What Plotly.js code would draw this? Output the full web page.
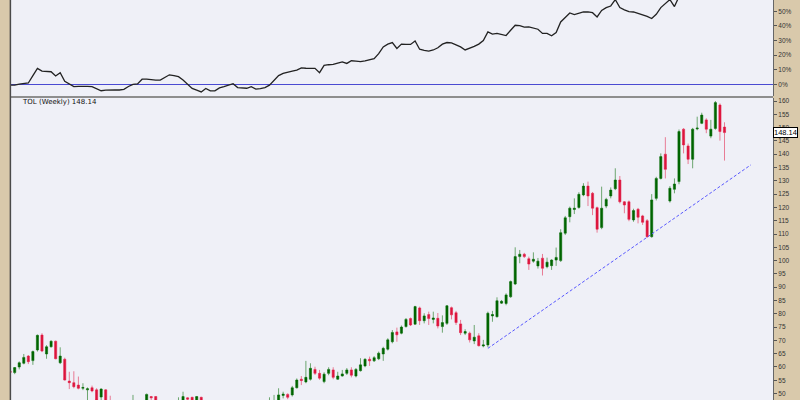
<!DOCTYPE html>
<html>
<head>
<meta charset="utf-8">
<script src="https://cdn.plot.ly/plotly-3.0.1.min.js"></script>
<style>
html,body{margin:0;padding:0;background:#d9c9ab;}
#chart{width:800px;height:400px;}
</style>
</head>
<body>
<div id="chart"></div>
<script>
// Weekly candles (index 0 = oldest visible week)
const openP = [58.4,57.9,60.0,61.4,64.1,62.4,66.4,72.0,64.9,67.6,69.7,61.6,62.9,54.7,54.1,53.2,52.0,51.4,52.2,51.4,
48.7,51.4,47.0,45,44,43,44,45.5,47,46.5,46,48.9,48.9,46.5,46,47,47.3,46.5,47,48.4,
48.6,46.8,48.6,46,45,44,44.5,45.5,46,46.5,47,45.5,45,44.8,45.5,44.5,45,46,47,47.2,
49.3,49.7,49.5,52.2,55.4,54.4,55.4,59.1,57.6,54.5,57.6,58.9,55.4,56.6,57.6,58.9,56.6,58.6,60.4,62.9,
62.3,63.1,64.9,66.7,69.5,73.2,72.7,75.2,78.2,76.1,82.2,77.4,79.7,77.9,78.3,75.2,76.4,82.3,80.4,76.2,
72.7,72.7,69.8,71.7,67.9,68.3,79.2,78.9,84.0,83.9,86.4,91.2,101.5,102.4,100.7,99.8,98.0,100.9,97.7,98.1,
100.2,100.0,110.3,116.5,119.2,120.0,124.7,128.0,125.3,119.9,112.4,120.5,124.3,127.0,130.3,122.1,122.1,115.3,119.3,116.8,
115.0,109.0,123.4,130.9,140.0,122.4,126.8,129.7,149.4,143.1,138.1,149.5,151.6,152.9,146.8,149.7,158.5,150.2];
const highP = [58.6,60.0,62.1,64.9,64.5,66.2,72.2,72.7,68.2,70.0,69.9,67.4,63.5,58.2,58.4,56.4,53.9,52.3,53.0,52.0,
52.0,51.6,49.2,46,45,45,46.5,49.5,47.3,47.5,50,49.1,49.1,47,47.4,47.5,47.5,48.6,50.7,48.6,
48.8,49.1,48.8,46.5,45.5,45.5,46,46.8,47,47.4,47.3,46,45.5,46,45.8,45.5,46.5,48.6,49.5,52.0,
50.7,50.1,52.9,55.7,56.6,62.3,61.4,60.1,58.9,58.0,59.9,59.9,58.2,58.9,59.6,59.9,59.6,63.3,63.3,63.9,
64.1,65.8,67.6,70.8,73.9,74.8,75.6,78.4,78.6,83.0,82.7,80.2,80.8,80.8,80.3,79.4,83.3,82.7,81.1,77.7,
74.2,73.3,75.8,72.7,70.2,80.8,81.1,86.2,85.2,87.7,92.5,105.0,104.0,102.9,101.5,103.1,101.0,102.5,101.1,100.5,
104.9,111.8,116.8,120.3,123.4,125.7,129.1,129.7,125.8,120.3,127.8,123.6,127.5,134.7,131.8,122.4,122.6,119.5,119.8,117.2,
115.6,125.0,131.5,140.3,146.4,128.0,130.9,149.3,149.8,144.0,149.9,154.1,155.6,153.5,152.9,160.0,159.1,152.0];
const lowP = [57.8,57.3,59.1,61.0,61.1,60.8,65.8,65.6,63.1,67.3,62.9,61.1,54.9,51.7,52.0,51.6,51.3,47.0,50.5,46.0,
47.0,45.0,44.0,43,42,42,43.5,45,45.5,45.8,45.8,47.5,46,45,45.5,46,45.8,46,46.8,47.3,
46.5,46.5,45.5,44,43,43.5,44,45,45.5,45.8,45,44.5,44,44.3,44,44,44.8,45.8,46.5,47,
48.2,47.9,48.9,51.9,53.2,53.9,54.9,57.0,55.2,53.9,56.9,55.4,55.2,56.4,57.0,56.1,56.1,58.3,59.9,60.4,
61.9,62.6,62.3,66.2,68.9,69.5,72.3,74.8,75.4,75.9,75.8,76.4,75.8,76.4,74.5,72.9,75.8,77.9,75.8,72.0,
72.0,69.2,68.6,67.7,67.4,67.4,77.0,78.6,83.7,83.2,86.0,90.8,99.0,101.0,96.5,99.2,97.0,94.4,97.1,96.5,
98.0,99.5,109.6,114.4,117.5,119.5,124.2,120.5,117.1,110.5,111.8,119.7,123.4,126.5,121.5,117.8,114.8,114.6,114.0,113.4,
108.6,108.6,122.6,130.5,130.9,121.8,125.3,128.7,140.3,136.3,134.7,149.0,151.3,147.9,146.0,149.2,145.1,137.6];
const closeP = [58.0,59.8,61.6,63.6,62.0,65.8,71.9,66.0,67.6,69.7,63.1,64.1,55.1,54.1,52.6,52.0,52.3,51.8,51.0,47.5,
51.7,46.0,45.0,44,43,44,45.5,47,46.5,47,49.7,48.4,46.5,46,47,47.3,46.5,47.2,48.9,47.9,
46.8,48.9,46,45,44,44.5,45.5,46,46.5,47,45.5,45,44.8,45.5,44.5,45,46,47,47.4,49.5,
49.8,48.6,52.2,55.1,54.9,56.1,59.5,57.6,55.8,57.3,59.1,56.1,56.6,57.4,58.9,56.9,59.1,60.8,62.9,62.3,
63.5,65.2,67.0,70.2,73.0,72.1,75.0,77.9,75.8,82.7,77.4,79.2,78.2,78.4,75.4,76.7,83.0,79.6,76.7,72.9,
73.3,70.2,71.2,68.0,68.3,80.2,79.7,84.9,84.7,87.1,92.1,101.5,102.4,101.5,98.7,100.5,99.8,97.1,99.4,100.2,
101.2,110.5,116.1,119.7,119.7,124.9,128.0,124.3,119.7,111.8,119.7,123.0,126.5,130.3,122.1,120.9,115.5,118.8,116.3,114.4,
109.0,122.8,130.9,139.1,134.3,127.2,128.8,148.5,143.5,138.1,149.4,149.8,154.7,149.4,149.4,159.4,148.5,148.14];

// Upper panel: performance (%) per week
const perfPct = [-0.5,-0.6,0.2,0.7,0.9,6,10.9,9,8.6,8.6,5.7,7.9,2,0,-1.6,-1.4,-1.2,-1.4,-1.6,-3,
-4.4,-4,-3.7,-3.8,-3.9,-3.4,-1.5,0,0.3,3.5,3.5,3,2.9,2.9,4.5,6.5,6,5.2,3,0,
-2.8,-4,-5.2,-2.8,-4.5,-4.5,-2.5,-1.6,-0.8,0.4,-2.2,-2.5,-2.7,-1.6,-3.3,-3,-2.2,-0.6,2.5,6,
7.5,8,9,9.7,11.3,11,10.9,10.9,8,13,13.4,13.6,14.5,15.4,14.3,16.1,15.8,15.5,16,16.6,
17.5,21,25.6,27.5,28.6,24.5,27.5,27.3,27.3,29.7,24,23.2,22.7,23.5,25,27.5,28.6,28.4,27,25.6,
23.5,24.5,26,27.5,30,35.9,34.3,34.8,34,33.4,37,40.4,40.2,39.1,39.3,38.5,37.7,34.8,34.8,33.2,
35.4,42.7,46,48.8,47.7,48.5,49.5,49.5,49,46.1,50.6,52.5,53.6,58,52.5,51,49.8,49.5,48.6,47.5,
46.5,45,47.9,52.5,55,58,53.2,60,64,66,63,68,72,66,67,62,63,62];

// Hand-drawn trend line (week index, price)
const trendX = [105, 162.8];
const trendY = [67.0, 136.0];

const priceTicks = [50,55,60,65,70,75,80,85,90,95,100,105,110,115,120,125,130,135,140,145,150,155,160];
const pctTicks = [0,10,20,30,40,50];
const pctLabels = ['0%','10%','20%','30%','40%','50%'];
const lastClose = 148.14;
const chartTitle = 'TOL (Weekly) 148.14';

const weeks = openP.map((_, i) => i);

const traces = [
  {
    type: 'candlestick', x: weeks, open: openP, high: highP, low: lowP, close: closeP,
    xaxis: 'x', yaxis: 'y',
    increasing: {line: {color: 'rgba(0,105,0,0.55)', width: 1}, fillcolor: '#006400'},
    decreasing: {line: {color: 'rgba(225,30,70,0.55)', width: 1}, fillcolor: '#dc143c'},
    whiskerwidth: 0, hoverinfo: 'skip'
  },
  {
    type: 'scatter', mode: 'lines', x: trendX, y: trendY, xaxis: 'x', yaxis: 'y',
    line: {color: '#5858ff', width: 1, dash: '3px,2px'}, hoverinfo: 'skip'
  },
  {
    type: 'scatter', mode: 'lines', x: weeks, y: perfPct, xaxis: 'x2', yaxis: 'y2',
    line: {color: '#222222', width: 1.3}, hoverinfo: 'skip'
  }
];

const tickFont = {family: 'Liberation Sans, Arial, sans-serif', size: 6.5, color: '#333'};

const layout = {
  width: 800, height: 400,
  margin: {l: 11, r: 27, t: 0, b: 0, pad: 0},
  paper_bgcolor: '#d9c9ab',
  plot_bgcolor: '#eff0f7',
  showlegend: false,
  boxgap: 0.32,
  xaxis: {domain: [0, 1], range: [0.19, 167.66], anchor: 'y', showgrid: false, zeroline: false,
          showticklabels: false, ticks: '', showline: false, rangeslider: {visible: false}},
  yaxis: {domain: [0, 0.755], range: [47.59, 161.13], side: 'right', anchor: 'x',
          tickmode: 'array', tickvals: priceTicks, showgrid: false, zeroline: false,
          showline: true, linecolor: '#666', linewidth: 1,
          ticks: 'outside', ticklen: 3, tickcolor: '#555', tickfont: tickFont},
  xaxis2: {domain: [0, 1], matches: 'x', anchor: 'y2', showgrid: false, zeroline: false,
           showticklabels: false, ticks: '', showline: false},
  yaxis2: {domain: [0.76, 1], range: [-8, 57.7], side: 'right', anchor: 'x2',
           tickmode: 'array', tickvals: pctTicks, ticktext: pctLabels, showgrid: false,
           zeroline: true, zerolinecolor: '#4a4ad2', zerolinewidth: 1,
           showline: true, linecolor: '#666', linewidth: 1,
           ticks: 'outside', ticklen: 3, tickcolor: '#555', tickfont: tickFont},
  shapes: [
    {type: 'line', xref: 'paper', yref: 'paper', x0: 0, x1: 1, y0: 0.7575, y1: 0.7575,
     line: {color: '#8e8e8e', width: 2}},
    {type: 'line', xref: 'paper', yref: 'paper', x0: -0.0008, x1: -0.0008, y0: 0, y1: 1,
     line: {color: '#4a4a4a', width: 1.5}}
  ],
  annotations: [
    {xref: 'paper', yref: 'paper', x: 0.0118, y: 0.746, xanchor: 'left', yanchor: 'middle',
     text: chartTitle, showarrow: false,
     font: {family: 'DejaVu Sans, sans-serif', size: 7, color: '#111'}},
    {xref: 'paper', yref: 'y', x: 1, y: lastClose, xanchor: 'left', yanchor: 'middle',
     text: lastClose.toFixed(2), showarrow: false,
     font: {family: 'Liberation Sans, Arial, sans-serif', size: 7.5, color: '#000'},
     bgcolor: '#ffffff', bordercolor: '#000000', borderwidth: 1, borderpad: 0}
  ]
};

Plotly.newPlot('chart', traces, layout, {staticPlot: true, displayModeBar: false});
</script>
</body>
</html>
